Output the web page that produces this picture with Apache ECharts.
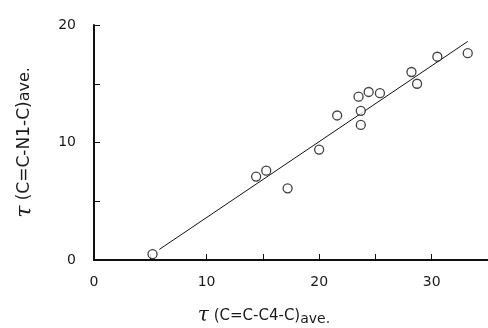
<!DOCTYPE html>
<html><head><meta charset="utf-8">
<script src="https://cdn.jsdelivr.net/npm/echarts@6/dist/echarts.min.js"></script>
<style>html,body{margin:0;padding:0;background:#fff}#c{width:488px;height:328px}</style>
</head><body><div id="c"></div>
<script>
const pointsX = [5.2, 14.4, 15.3, 17.2, 20.0, 21.6, 23.5, 24.4, 25.4, 23.7, 23.7, 28.2, 28.7, 30.5, 33.2];
const pointsY = [0.5, 7.1, 7.6, 6.1, 9.4, 12.3, 13.9, 14.3, 14.2, 12.7, 11.5, 16.0, 15.0, 17.3, 17.6];
const fitX = [5.8, 33.2];
const fitY = [0.9, 18.6];
const xTickLabels = [0, 10, 20, 30];
const yTickLabels = [0, 10, 20];

const chart = echarts.init(document.getElementById('c'));
const labelFont = {color:'#1a1a1a', fontSize:14, fontFamily:'DejaVu Sans'};
chart.setOption({
  animation:false,
  grid:{left:94, right:0, top:25, bottom:68, outerBoundsMode:'none', containLabel:false},
  xAxis:{type:'value', min:0, max:35, interval:5,
    axisLine:{lineStyle:{color:'#111', width:2}},
    axisTick:{inside:true, length:6, lineStyle:{color:'#111', width:1}},
    splitLine:{show:false},
    axisLabel:Object.assign({margin:15, formatter:v => xTickLabels.includes(v) ? String(v) : ''}, labelFont),
    name:'{t|τ} (C=C-C4-C){s|ave.}', nameLocation:'middle', nameGap:46,
    nameTextStyle:{color:'#1a1a1a', fontSize:15, fontFamily:'DejaVu Sans', padding:[0,54,0,0],
      rich:{t:{fontSize:20, fontStyle:'italic', fontFamily:'DejaVu Serif'}, s:{fontSize:14, padding:[6,0,0,0]}}}
  },
  yAxis:{type:'value', min:0, max:20, interval:5,
    axisLine:{show:true, lineStyle:{color:'#111', width:2}},
    axisTick:{show:true, inside:true, length:6, lineStyle:{color:'#111', width:1}},
    splitLine:{show:false},
    axisLabel:Object.assign({margin:18, formatter:v => yTickLabels.includes(v) ? String(v) : ''}, labelFont),
    name:'{t|τ} (C=C-N1-C){s|ave.}', nameLocation:'middle', nameGap:58, nameRotate:90,
    nameTextStyle:{color:'#1a1a1a', fontSize:17, fontFamily:'DejaVu Sans',
      rich:{t:{fontSize:22, fontStyle:'italic', fontFamily:'DejaVu Serif'}, s:{fontSize:16}}}
  },
  series:[
    {type:'line', data:fitX.map((x,i)=>[x,fitY[i]]), symbol:'none', lineStyle:{color:'#111', width:1}},
    {type:'scatter', data:pointsX.map((x,i)=>[x,pointsY[i]]), symbol:'circle', symbolSize:9,
      itemStyle:{color:'#fff', borderColor:'#111', borderWidth:1.3}, z:3}
  ]
});
</script></body></html>
